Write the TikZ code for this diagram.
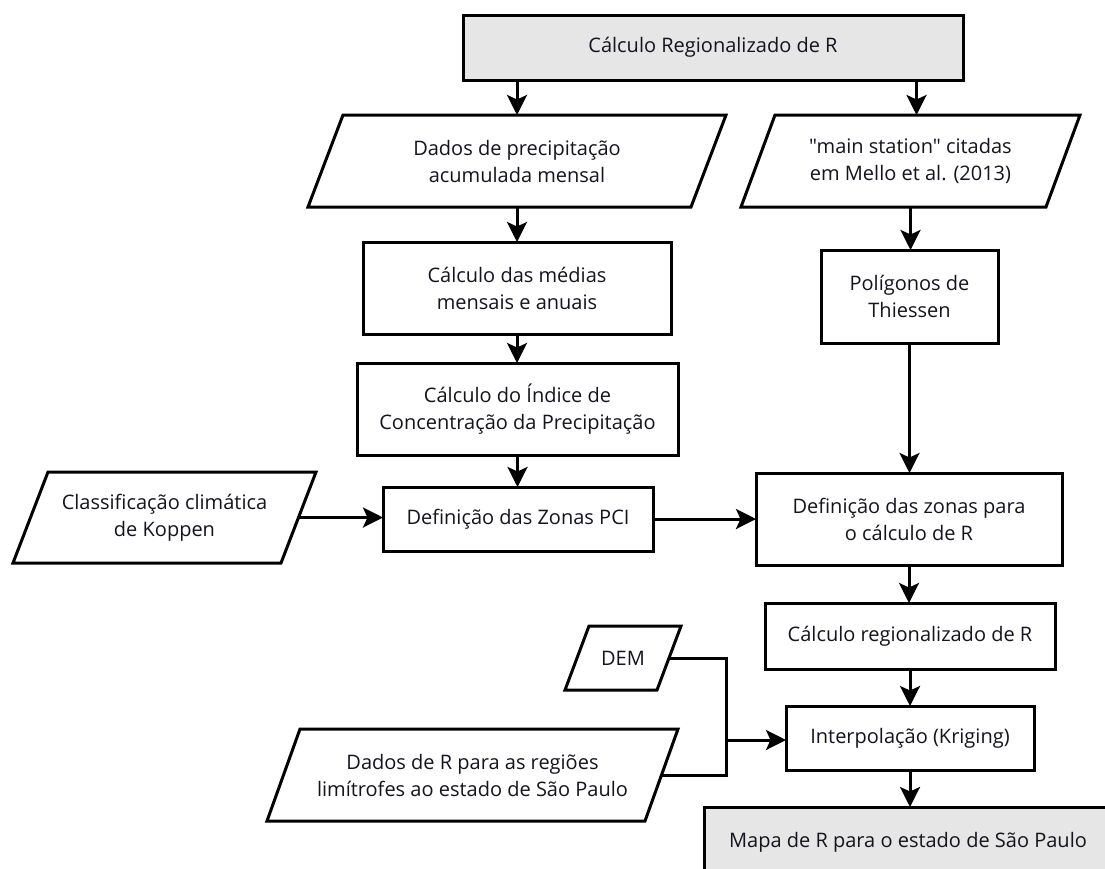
\documentclass[tikz,border=0pt]{standalone}
\usepackage{fontspec}
\setmainfont{Open Sans}[Ligatures=TeXOff]
\usetikzlibrary{arrows.meta,calc}
\definecolor{boxgray}{RGB}{230,230,230}
\definecolor{ink}{RGB}{20,20,28}
\newcommand\pgram[2]{\draw[frame] ([xshift=#2]#1.north west) -- ([xshift=#2]#1.north east) -- ([xshift=-#2]#1.south east) -- ([xshift=-#2]#1.south west) -- cycle;}
\begin{document}
\begin{tikzpicture}[x=1pt,y=-1pt,
  frame/.style={line width=3pt, line join=miter, draw=black},
  txt/.style={align=center, font=\fontsize{20}{27}\selectfont, text=ink, inner sep=0pt, outer sep=0pt},
  proc/.style={txt, draw, frame},
  io/.style={txt},
  arr/.style={line width=3pt, -{Stealth[length=20pt,width=20pt,inset=4.5pt]}},
  lin/.style={line width=3pt}]
\clip (0,0) rectangle (1105,868);
\fill[white] (0,0) rectangle (1105,868);

\node[proc, fill=boxgray, minimum width=500pt, minimum height=65pt] (top) at (713,47.5) {Cálculo Regionalizado de R};

\node[io, minimum width=383pt, minimum height=92pt] (dados) at (517,161) {Dados de precipitação\\acumulada mensal};
\pgram{dados}{17.5pt}
\node[io, minimum width=305pt, minimum height=92pt] (main) at (910.5,161) {"main station" citadas\\em Mello et al. (2013)};
\pgram{main}{17pt}

\node[proc, minimum width=308pt, minimum height=92pt] (medias) at (517,288) {Cálculo das médias\\mensais e anuais};
\node[proc, minimum width=321pt, minimum height=92pt] (indice) at (517.5,409) {Cálculo do Índice de\\Concentração da Precipitação};
\node[proc, minimum width=270pt, minimum height=64pt] (pci) at (518,519) {Definição das Zonas PCI};

\node[io, minimum width=268pt, minimum height=91pt] (koppen) at (164.5,517.5) {Classificação climática\\de Koppen};
\pgram{koppen}{17.5pt}

\node[proc, minimum width=177pt, minimum height=93pt] (polig) at (909.5,296.5) {Polígonos de\\Thiessen};
\node[proc, minimum width=306pt, minimum height=92pt] (zonas) at (909,519) {Definição das zonas para\\o cálculo de R};
\node[proc, minimum width=290pt, minimum height=66pt] (calcR) at (910,636) {Cálculo regionalizado de R};
\node[proc, minimum width=248pt, minimum height=64pt] (interp) at (910,738) {Interpolação (Kriging)};
\node[proc, fill=boxgray, minimum width=408pt, minimum height=70pt] (mapa) at (908,842) {Mapa de R para o estado de São Paulo};

\node[io, minimum width=92pt, minimum height=64pt] (dem) at (623,658) {DEM};
\pgram{dem}{12pt}
\node[io, minimum width=378pt, minimum height=92pt] (dadosR) at (472.5,775) {Dados de R para as regiões\\limítrofes ao estado de São Paulo};
\pgram{dadosR}{16.5pt}

\coordinate (jx) at (726,740);

\draw[arr] (dados.north |- top.south) -- (dados.north);
\draw[arr] ([xshift=6pt]main.north |- top.south) -- ([xshift=6pt]main.north);
\draw[arr] (dados.south) -- (dados.south |- medias.north);
\draw[arr] (medias.south) -- (medias.south |- indice.north);
\draw[arr] (indice.south) -- (indice.south |- pci.north);
\draw[arr] (main.south) -- (main.south |- polig.north);
\draw[arr] (polig.south) -- (polig.south |- zonas.north);
\draw[arr] (koppen.east) -- (koppen.east -| pci.west);
\draw[arr] (pci.east) -- (pci.east -| zonas.west);
\draw[arr] (zonas.south) -- (zonas.south |- calcR.north);
\draw[arr] (calcR.south) -- (calcR.south |- interp.north);
\draw[arr] (interp.south) -- (interp.south |- mapa.north);
\draw[lin] (dem.east) -| (jx);
\draw[lin] (dadosR.east) -| (jx);
\draw[arr] (jx) -- (jx -| interp.west);
\end{tikzpicture}
\end{document}
